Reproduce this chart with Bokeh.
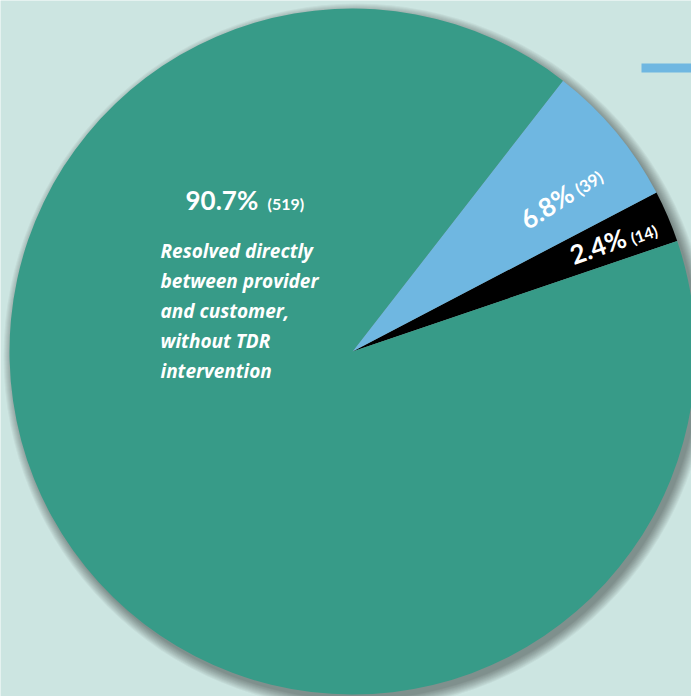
import math
from bokeh.plotting import figure
from bokeh.models import Range1d, ColumnDataSource
from bokeh.core.properties import value
from bokeh.embed import file_html
from bokeh.resources import INLINE

# ---- data ----
categories = ["Resolved directly between provider and customer, without TDR intervention",
              "Category B", "Category C"]
counts = [519, 39, 14]
percent_labels = ["90.7%", "6.8%", "2.4%"]
count_labels = ["(519)", "(39)", "(14)"]
colors = ["#379b88", "#6fb7e1", "#000000"]
description_lines = ["Resolved directly", "between provider", "and customer,",
                     "without TDR", "intervention"]

W, H = 691, 696
BG = "#cce5e1"
cx, cy_px, R = 352, 351, 343
cy = H - cy_px

p = figure(width=W, height=H, x_range=Range1d(0, W), y_range=Range1d(0, H),
           output_backend="svg", toolbar_location=None, min_border=0)
p.axis.visible = False
p.grid.visible = False
p.outline_line_color = None
p.background_fill_color = BG
p.border_fill_color = BG

# shadow (soft, offset to bottom-right)
for i in range(11):
    p.circle(x=cx + 4, y=cy - 5, radius=R + i * 1.0, fill_color="black",
             fill_alpha=0.04, line_color=None)

# wedges: black starts at ~18.8 deg, then blue, then green, anticlockwise
total = sum(counts)
order = [2, 1, 0]
start = math.radians(18.8)
starts, ends, cols = [], [], []
a = start
for k in order:
    span = 2 * math.pi * counts[k] / total
    starts.append(a)
    ends.append(a + span)
    cols.append(colors[k])
    a += span
src = ColumnDataSource(dict(x=[cx] * 3, y=[cy] * 3, s=starts, e=ends, c=cols))
p.wedge(x="x", y="y", radius=R, start_angle="s", end_angle="e",
        fill_color="c", line_color=None, source=src)

# decorative blue bar at top-right
p.quad(left=641, right=691, top=H - 63, bottom=H - 72, fill_color="#6fb7e1", line_color=None)

NUMFONT = value("Lato")

# main label (y = visual centre in pixels)
p.text(x=[185], y=[H - 199], text=[percent_labels[0]], text_font=NUMFONT,
       text_font_size="26px", text_font_style="bold", text_color="white",
       text_align="left", text_baseline="alphabetic")
p.text(x=[267], y=[H - 203], text=[count_labels[0]], text_font=NUMFONT,
       text_font_size="16px", text_font_style="bold", text_color="white",
       text_align="left", text_baseline="alphabetic")

ys = [H - (250 + 30 * i) for i in range(len(description_lines))]
p.text(x=[160] * len(description_lines), y=ys, text=description_lines,
       text_font=value("Open Sans"), text_font_size="19px",
       text_font_style="bold italic", text_color="white",
       text_align="left", text_baseline="alphabetic")

# rotated small-slice labels; junction = baseline point between "%" and "("
def slice_label(k, junction_px, rot_deg, big, small):
    r = math.radians(rot_deg)
    jx, jy = junction_px[0], H - junction_px[1]
    ob = 0.36 * big + 1
    p.text(x=[jx - ob * math.sin(r)], y=[jy + ob * math.cos(r)], text=[percent_labels[k]],
           angle=r, text_font=NUMFONT, text_font_size=f"{big}px", text_font_style="bold",
           text_color="white", text_align="right", text_baseline="alphabetic")
    gap = 5
    os_ = 0.36 * small + 1
    sx, sy = jx + gap * math.cos(r), jy + gap * math.sin(r)
    p.text(x=[sx - os_ * math.sin(r)], y=[sy + os_ * math.cos(r)], text=[count_labels[k]],
           angle=r, text_font=NUMFONT, text_font_size=f"{small}px", text_font_style="bold",
           text_color="white", text_align="left", text_baseline="alphabetic")

slice_label(1, (576, 199), 33, 26, 17)
slice_label(2, (628, 246), 19, 26, 16)

open("out.html", "w").write(file_html(p, INLINE))
